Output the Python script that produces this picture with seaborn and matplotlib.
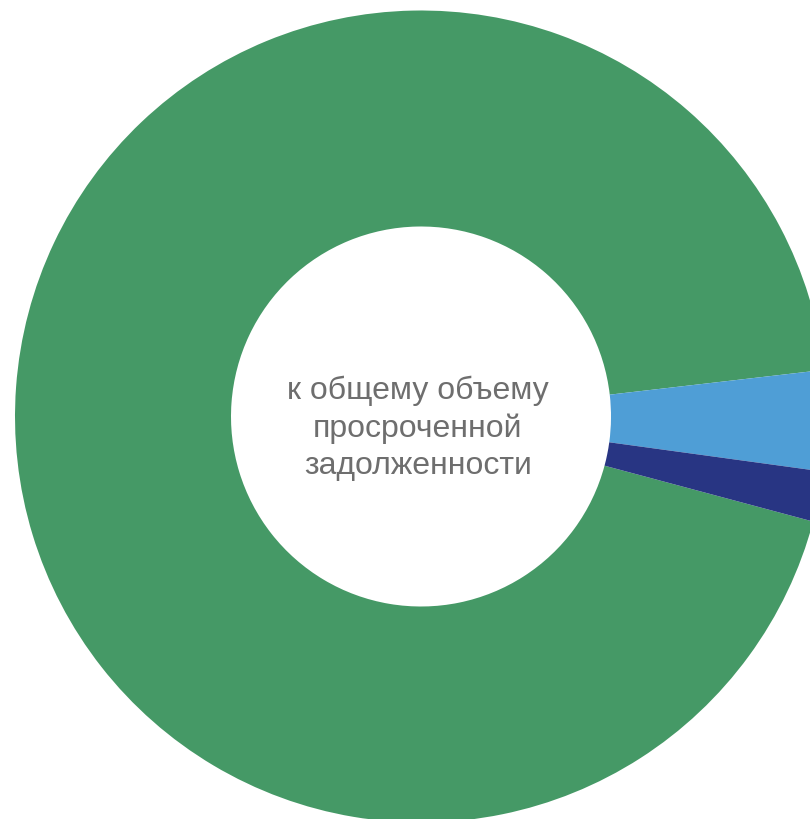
import matplotlib
matplotlib.use("Agg")
import matplotlib.pyplot as plt
import seaborn as sns

# shares of overdue debt, percent
labels = ["основная", "доля 2", "доля 3"]
shares = [94, 4, 2]
colors = ["#459966", "#4F9ED6", "#283583"]
center_text = "к общему объему\nпросроченной\nзадолженности"

sns.set_theme(style="white")
plt.rcParams["font.family"] = ["Liberation Sans", "DejaVu Sans"]

fig = plt.figure(figsize=(8.1, 8.2), dpi=100)
ax = fig.add_axes([0, 0, 1, 1])

pal = sns.color_palette(colors)
R = 406.0
wedges, _ = ax.pie(shares, colors=pal, startangle=345, counterclock=False,
                   radius=1.0, wedgeprops=dict(width=1 - 190 / R, linewidth=0))

ax.text(-3 / R, -11 / R, center_text, ha="center", va="center",
        fontsize=23, color="#6E6E6E", linespacing=1.3)

# the chart is cut at the right and bottom edges
ax.set_xlim(-421 / R, (810 - 421) / R)
ax.set_ylim(-(820 - 417.5) / R, 417.5 / R)
ax.set_aspect("auto")
ax.axis("off")

fig.savefig("out.png", dpi=100, facecolor="white")
